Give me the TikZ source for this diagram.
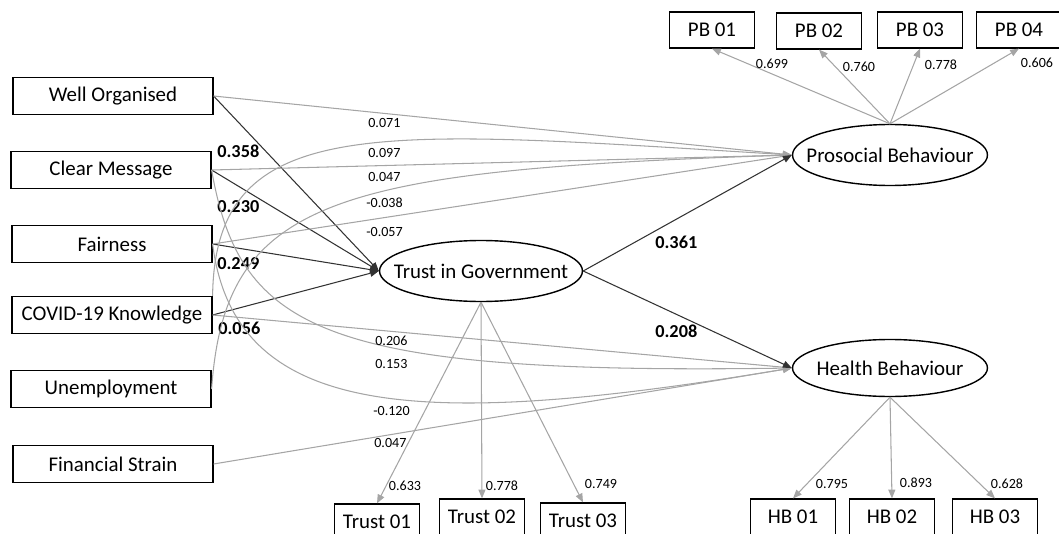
\documentclass[tikz,border=0pt]{standalone}
\usepackage{fontspec}
\setmainfont{Carlito}
\usetikzlibrary{shapes.geometric,arrows.meta}
\definecolor{pathgray}{RGB}{165,165,165}
\definecolor{pathdark}{RGB}{50,50,50}

\begin{document}
\begin{tikzpicture}[x=0.02cm,y=-0.02cm,
  construct/.style={draw,line width=0.7pt,minimum width=4cm,minimum height=0.74cm,inner sep=0pt,font=\fontsize{11.9}{14}\selectfont},
  indicator/.style={draw,line width=0.7pt,minimum width=1.7cm,minimum height=0.72cm,inner sep=0pt,font=\fontsize{11.9}{14}\selectfont},
  latent/.style={draw,ellipse,line width=0.8pt,minimum width=3.9cm,minimum height=1.22cm,inner sep=0pt,font=\fontsize{11.9}{14}\selectfont},
  lightpath/.style={pathgray,line width=0.6pt,-{Triangle[length=5pt,width=4pt]}},
  darkpath/.style={pathdark,line width=0.6pt,-{Triangle[length=5pt,width=4pt]}},
  coef/.style={font=\fontsize{8}{9.6}\selectfont,inner sep=0pt},
  bcoef/.style={font=\bfseries\fontsize{10.4}{12}\selectfont,inner sep=0pt}]
\useasboundingbox (0,0) rectangle (1059,534);
%\draw[help lines] (0,0) grid[step=50] (1059,534);

% predictors
\node[construct] (wellorg) at (113,96) {Well Organised};
\node[construct] (clear) at (111,170) {Clear Message};
\node[construct] (fair) at (112,244) {Fairness};
\node[construct] (covid) at (112,315) {COVID-19 Knowledge};
\node[construct] (unemp) at (111,389) {Unemployment};
\node[construct] (finance) at (113,464) {Financial Strain};

% latent variables
\node[latent,minimum width=4.06cm] (trust) at (481,271) {\makebox[0pt]{Trust in Government}};
\node[latent] (pro) at (890,155) {\makebox[0pt]{Prosocial Behaviour}};
\node[latent,minimum height=1.14cm] (health) at (890,368) {\makebox[0pt]{Health Behaviour}};

% indicators
\node[indicator] (pb1) at (712,30) {PB 01};
\node[indicator] (pb2) at (819,31) {PB 02};
\node[indicator] (pb3) at (920,30) {PB 03};
\node[indicator] (pb4) at (1019,30) {PB 04};
\node[indicator] (tg1) at (377,522) {Trust 01};
\node[indicator] (tg2) at (482,517) {Trust 02};
\node[indicator] (tg3) at (583,521) {Trust 03};
\node[indicator] (hb1) at (793,517) {HB 01};
\node[indicator] (hb2) at (892,517) {HB 02};
\node[indicator] (hb3) at (995,517) {HB 03};

% loadings
\draw[lightpath] (pro.north) -- (pb1.south);
\draw[lightpath] (pro.north) -- (pb2.south);
\draw[lightpath] (pro.north) -- (pb3.south);
\draw[lightpath] (pro.north) -- (pb4.south);
\draw[lightpath] (trust.south) -- (tg1.north);
\draw[lightpath] (trust.south) -- (tg2.north);
\draw[lightpath] (trust.south) -- (tg3.north);
\draw[lightpath] (health.south) -- (hb1.north);
\draw[lightpath] (health.south) -- (hb2.north);
\draw[lightpath] (health.south) -- (hb3.north);
\node[coef] (lpb1) at (772,64) {0.699};
\node[coef] (lpb2) at (859,67) {0.760};
\node[coef] (lpb3) at (941,65) {0.778};
\node[coef] (lpb4) at (1037,63) {0.606};
\node[coef] (ltg1) at (405,486) {0.633};
\node[coef] (ltg2) at (502,486) {0.778};
\node[coef] (ltg3) at (601,484) {0.749};
\node[coef] (lhb1) at (832,484) {0.795};
\node[coef] (lhb2) at (916,483) {0.893};
\node[coef] (lhb3) at (1007,484) {0.628};

% paths to trust
\draw[darkpath] (wellorg.east) -- (trust.west);
\draw[darkpath] (clear.east) -- (trust.west);
\draw[darkpath] (fair.east) -- (trust.west);
\draw[darkpath] (covid.east) -- (trust.west);
\node[bcoef,anchor=west] (b1) at (217,151) {0.358};
\node[bcoef,anchor=west] (b2) at (217,207) {0.230};
\node[bcoef,anchor=west] (b3) at (217,264) {0.249};
\node[bcoef,anchor=west] (b4) at (218,328) {0.056};

% paths to prosocial behaviour
\draw[lightpath] (wellorg.east) -- (pro.west);
\draw[lightpath] (covid.north east) .. controls (215,110) and (380,130) .. (pro.west);
\draw[lightpath] (clear.east) -- (pro.west);
\draw[lightpath] (unemp.east) .. controls (225,200) and (330,170) .. (pro.west);
\draw[lightpath] (fair.east) -- (pro.west);
\node[coef,anchor=west] (p1) at (368,123) {0.071};
\node[coef,anchor=west] (p2) at (368,153) {0.097};
\node[coef,anchor=west] (p3) at (368,177) {0.047};
\node[coef,anchor=west] (p4) at (366,203) {-0.038};
\node[coef,anchor=west] (p5) at (366,232) {-0.057};

% paths to health behaviour
\draw[lightpath] (covid.east) -- (health.west);
\draw[lightpath] (clear.east) .. controls (240,330) and (320,375) .. (health.west);
\draw[lightpath] (fair.east) .. controls (235,420) and (420,430) .. (health.west);
\draw[lightpath] (finance.east) -- (health.west);
\node[coef,anchor=west] (h1) at (375,341) {0.206};
\node[coef,anchor=west] (h2) at (375,364) {0.153};
\node[coef,anchor=west] (h3) at (373,411) {-0.120};
\node[coef,anchor=west] (h4) at (374,443) {0.047};

% trust to outcomes
\draw[darkpath] (trust.east) -- (pro.west);
\draw[darkpath] (trust.east) -- (health.west);
\node[bcoef,anchor=west] (b5) at (655,242) {0.361};
\node[bcoef,anchor=west] (b6) at (655,331) {0.208};
\end{tikzpicture}
\end{document}
